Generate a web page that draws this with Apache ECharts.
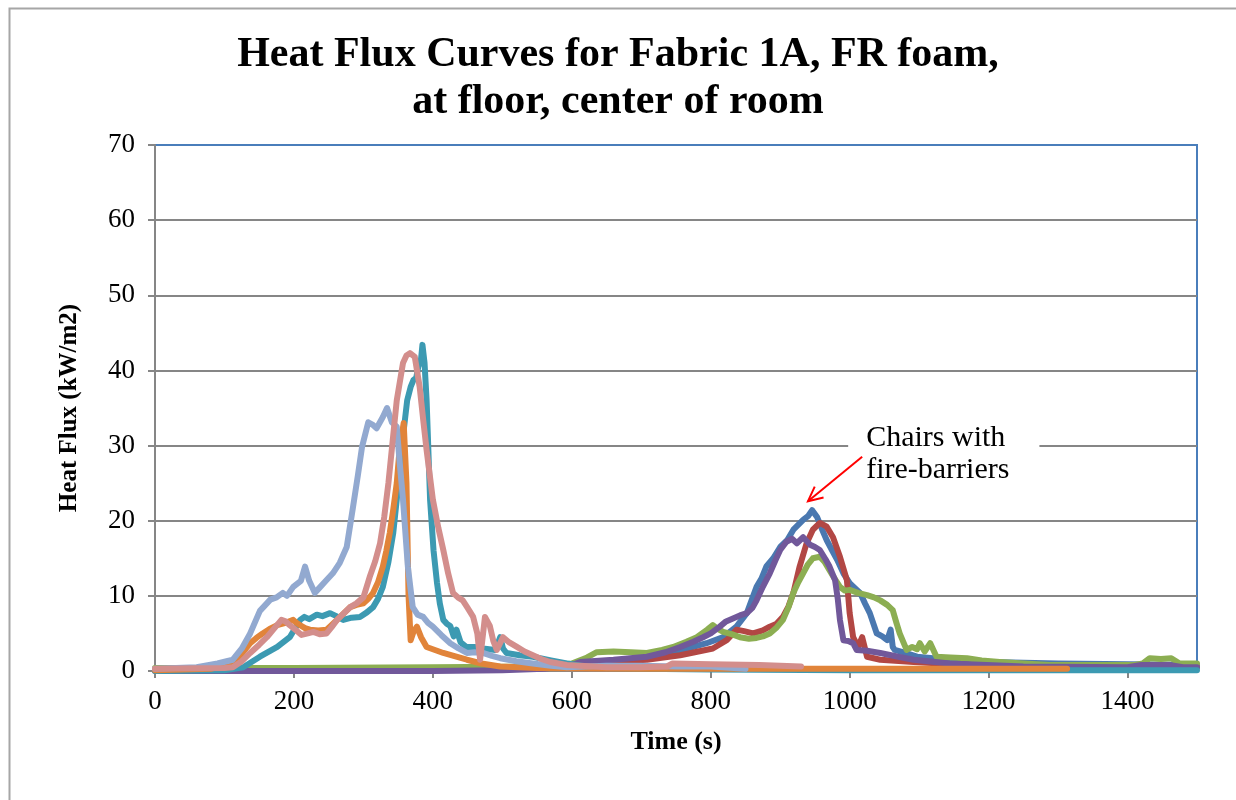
<!DOCTYPE html>
<html><head><meta charset="utf-8">
<script src="https://cdn.jsdelivr.net/npm/echarts@6/dist/echarts.min.js"></script>
<style>html,body{margin:0;padding:0;background:#fff}#c{width:1236px;height:800px}</style>
</head><body><div id="c"></div>
<script>
// ---- data (time s, heat flux kW/m2) ----
const seriesNames = ['Chair 1','Chair 2','Chair 3','Chair 4','Chair 5','Chair 6','Chair 7','Chair 8'];
const chairBlue = [[0,0.2],[100,0.2],[200,0.2],[300,0.3],[400,0.3],[500,0.3],[560,0.4],[600,0.6],[650,1.0],[700,1.5],[740,2.3],[760,2.8],[794,3.7],[818,4.5],[837,5.9],[852,7.7],[866,11.2],[873,12.3],[880,13.9],[890,15.0],[900,16.5],[910,17.4],[919,18.8],[933,20.1],[940,20.6],[946,21.4],[953,20.5],[960,18.9],[967,17.4],[975,16.0],[982,14.8],[991,13.0],[1000,11.7],[1008,11.0],[1015,10.4],[1022,9.0],[1029,7.7],[1039,5.0],[1047,4.6],[1054,4.1],[1059,5.5],[1062,3.2],[1065,2.8],[1080,2.4],[1097,1.9],[1120,1.7],[1144,1.5],[1200,1.2],[1300,1.0],[1400,0.9],[1500,0.8]];
const chairRed = [[0,0.1],[200,0.1],[400,0.2],[550,0.3],[600,0.8],[650,1.2],[708,1.5],[756,2.1],[803,3.0],[823,4.1],[837,5.5],[848,5.3],[861,5.0],[875,5.4],[885,5.9],[895,6.3],[904,7.2],[912,8.6],[919,10.4],[928,13.9],[938,17.0],[947,18.8],[957,19.7],[967,19.2],[976,17.8],[986,15.2],[996,12.1],[1000,7.7],[1005,4.5],[1012,3.2],[1018,4.5],[1025,1.9],[1044,1.5],[1092,1.2],[1150,0.9],[1250,0.7],[1350,0.6],[1450,0.5],[1500,0.5]];
const chairGreen = [[0,0.4],[200,0.4],[400,0.5],[550,0.6],[600,1.0],[622,1.8],[636,2.5],[660,2.6],[685,2.5],[708,2.4],[730,2.8],[746,3.2],[765,3.9],[780,4.5],[795,5.5],[803,6.1],[810,5.6],[818,5.2],[830,4.9],[842,4.5],[855,4.3],[866,4.4],[875,4.6],[885,5.0],[895,5.8],[904,6.8],[912,8.5],[919,10.4],[926,11.8],[933,13.0],[940,14.2],[947,15.0],[957,15.2],[964,14.5],[971,13.4],[979,12.2],[986,11.2],[993,10.7],[1000,10.8],[1012,10.4],[1025,10.1],[1035,9.8],[1044,9.4],[1054,8.8],[1062,8.1],[1067,6.5],[1072,5.0],[1082,2.8],[1090,3.2],[1097,2.9],[1101,3.7],[1108,2.6],[1116,3.7],[1125,1.9],[1145,1.8],[1169,1.7],[1190,1.4],[1216,1.2],[1250,1.0],[1288,0.8],[1350,0.8],[1410,0.8],[1422,1.0],[1432,1.7],[1448,1.6],[1463,1.7],[1475,1.0],[1500,1.0]];
const chairPurple = [[0,0],[200,0],[400,0],[500,0.1],[560,0.3],[600,0.8],[612,1.2],[660,1.5],[708,1.9],[735,2.5],[756,3.2],[775,3.9],[789,4.5],[800,5.0],[813,5.9],[822,6.6],[832,7.0],[842,7.4],[852,7.7],[860,8.4],[866,9.4],[875,11.2],[885,13.0],[893,14.7],[900,16.1],[909,17.2],[917,17.6],[924,17.0],[933,17.8],[943,16.8],[950,16.5],[957,16.1],[965,14.9],[971,13.9],[979,12.1],[983,9.5],[986,6.8],[991,4.1],[998,4.0],[1005,3.7],[1010,2.8],[1025,2.7],[1044,2.4],[1070,1.9],[1092,1.5],[1144,1.0],[1250,0.6],[1400,0.5],[1420,0.8],[1460,0.8],[1480,0.5],[1500,0.5]];
const chairTeal = [[0,0],[100,0.1],[127,0.5],[151,1.9],[176,3.2],[194,4.5],[209,6.8],[215,7.2],[222,6.9],[233,7.5],[241,7.3],[252,7.7],[261,7.3],[271,6.8],[283,7.1],[295,7.2],[305,7.8],[314,8.5],[321,9.6],[328,11.2],[336,14.5],[343,18.4],[353,27.2],[358,32.0],[363,36.0],[368,37.8],[372,38.7],[376,39.0],[379,40.5],[383,41.5],[385,43.4],[388,41.0],[391,36.0],[396,22.8],[401,16.0],[406,11.7],[410,9.0],[415,6.8],[420,6.3],[425,6.0],[430,4.6],[434,5.5],[440,3.8],[448,3.2],[460,3.2],[472,3.0],[490,2.8],[497,4.5],[501,3.0],[506,2.4],[525,2.1],[544,1.9],[570,1.4],[593,1.0],[620,0.6],[650,0.4],[700,0.3],[800,0.2],[1000,0.1],[1500,0.1]];
const chairOrange = [[0,0.1],[80,0.3],[112,1.0],[125,2.3],[137,3.7],[146,4.4],[155,5.0],[165,5.6],[176,6.1],[188,6.4],[199,6.8],[204,6.4],[209,6.1],[216,5.7],[223,5.5],[235,5.4],[247,5.5],[254,6.1],[262,6.8],[271,7.6],[281,8.5],[290,8.8],[300,9.0],[307,9.6],[314,10.4],[321,11.8],[328,13.9],[333,16.0],[338,18.4],[343,21.5],[348,25.0],[352,29.4],[358,33.0],[362,25.0],[365,10.0],[368,4.1],[372,5.2],[377,5.9],[383,4.5],[391,3.2],[403,2.8],[415,2.4],[430,2.0],[449,1.5],[470,1.0],[497,0.6],[550,0.4],[700,0.3],[1000,0.3],[1313,0.3]];
const chairLightBlue = [[0,0.3],[60,0.5],[90,1.0],[112,1.5],[125,3.0],[137,5.0],[151,8.0],[166,9.5],[175,9.8],[184,10.4],[190,10.0],[199,11.2],[210,12.0],[216,13.9],[222,12.0],[230,10.4],[238,11.2],[247,12.1],[256,13.0],[266,14.4],[276,16.5],[285,21.8],[292,26.0],[298,29.8],[307,33.1],[313,32.8],[319,32.3],[328,33.8],[334,35.0],[341,33.1],[348,32.5],[352,28.0],[357,22.8],[364,13.9],[371,8.5],[378,7.5],[386,7.2],[393,6.4],[400,5.9],[412,4.8],[425,3.7],[437,3.0],[449,2.4],[460,2.5],[472,2.4],[485,2.0],[497,1.7],[520,1.3],[544,1.0],[570,0.7],[593,0.5],[620,0.6],[650,0.7],[700,0.7],[750,0.6],[800,0.6],[850,0.3]];
const chairPink = [[0,0.3],[100,0.4],[112,0.5],[125,1.3],[137,2.4],[150,3.5],[161,4.5],[172,5.7],[182,6.8],[188,6.6],[194,6.1],[202,5.5],[211,4.8],[220,5.0],[228,5.2],[237,4.9],[247,5.0],[254,5.8],[262,6.8],[271,7.6],[281,8.5],[290,9.0],[300,9.8],[309,12.5],[317,14.6],[324,17.0],[330,20.5],[336,25.0],[342,30.5],[348,36.0],[357,41.0],[362,42.0],[367,42.3],[374,41.8],[381,37.8],[386,33.5],[391,29.4],[400,22.8],[408,19.0],[415,16.1],[422,13.0],[429,10.4],[436,9.8],[443,9.4],[450,8.4],[458,7.2],[464,5.0],[468,1.5],[475,7.2],[482,6.0],[487,4.0],[492,2.8],[501,4.5],[510,3.8],[521,3.2],[532,2.6],[544,2.1],[556,1.6],[569,1.2],[593,0.8],[650,0.5],[700,0.5],[737,0.6],[745,1.0],[800,0.9],[870,0.8],[900,0.7],[930,0.6]];
const xTicks = [0,200,400,600,800,1000,1200,1400];
const annotationText = 'Chairs with\nfire-barriers';
const arrowFrom = [1018, 28.5];
const arrowTo = [940, 22.6];

const allData = [chairBlue, chairRed, chairGreen, chairPurple, chairTeal, chairOrange, chairLightBlue, chairPink];
const colors = ['#4A78B0','#B24744','#8CAE52','#71589A','#3C9AB2','#E1843A','#92A9D0','#D38E8C'];

const serif = 'Liberation Serif, Times New Roman, serif';
const chart = echarts.init(document.getElementById('c'), null, {renderer:'canvas'});
chart.setOption({
  animation:false,
  backgroundColor:'#fff',
  title:{text:'Heat Flux Curves for Fabric 1A, FR foam,\nat floor, center of room', left:'center', top:27,
    textStyle:{fontFamily:serif, fontWeight:'bold', fontSize:42, lineHeight:47, color:'#000'}},
  grid:{left:155, right:39, top:145, bottom:129, show:true, borderColor:'#4A7EBB', borderWidth:2, backgroundColor:'transparent'},
  xAxis:{type:'value', min:0, max:1500, interval:200,
    name:'Time (s)', nameLocation:'middle', nameGap:58,
    nameTextStyle:{fontFamily:serif, fontWeight:'bold', fontSize:26, color:'#000'},
    axisLine:{lineStyle:{color:'#868686', width:2}},
    axisTick:{show:true, inside:false, length:7, lineStyle:{color:'#868686', width:2}, customValues:xTicks},
    axisLabel:{fontFamily:serif, fontSize:27, color:'#000', margin:17, customValues:xTicks, formatter:v=>String(v)},
    splitLine:{show:false}},
  yAxis:{type:'value', min:0, max:70, interval:10,
    name:'Heat Flux (kW/m2)', nameLocation:'middle', nameGap:73, nameRotate:90,
    nameTextStyle:{fontFamily:serif, fontWeight:'bold', fontSize:25, color:'#000'},
    axisLine:{show:true, lineStyle:{color:'#868686', width:2}},
    axisTick:{show:true, inside:false, length:7, lineStyle:{color:'#868686', width:2}},
    axisLabel:{fontFamily:serif, fontSize:27, color:'#000', margin:20, formatter:v=>String(v)},
    splitLine:{show:true, showMaxLine:false, lineStyle:{color:'#868686', width:2}}},
  series: allData.map((d,i)=>({name:seriesNames[i], type:'line', data:d, showSymbol:false, symbol:'none',
    lineStyle:{color:colors[i], width:6, join:'round', cap:'round'}, itemStyle:{color:colors[i]}, z:2+i}))
});

// annotation placed via data coordinates
const p0 = chart.convertToPixel({gridIndex:0}, arrowFrom);
const p1 = chart.convertToPixel({gridIndex:0}, arrowTo);
const ang = Math.atan2(p1[1]-p0[1], p1[0]-p0[0]);
const hl = 16, ha = 0.45;
const h1 = [p1[0]-hl*Math.cos(ang-ha), p1[1]-hl*Math.sin(ang-ha)];
const h2 = [p1[0]-hl*Math.cos(ang+ha), p1[1]-hl*Math.sin(ang+ha)];
chart.setOption({graphic:[
  {type:'rect', left:7, top:6, shape:{x:0,y:0,width:1300,height:900}, style:{fill:'none', stroke:'#A6A6A6', lineWidth:2}, silent:true, z:0},
  {type:'text', x:p0[0]-14, y:p0[1]-3, z:50,
    style:{text:annotationText, fontFamily:serif, fontSize:30, lineHeight:32, fill:'#000', backgroundColor:'#fff', padding:[0,30,0,18], textVerticalAlign:'middle'}},
  {type:'line', shape:{x1:p0[0], y1:p0[1], x2:p1[0], y2:p1[1]}, style:{stroke:'#FF0000', lineWidth:2}, z:51},
  {type:'polyline', shape:{points:[h1,p1,h2]}, style:{stroke:'#FF0000', lineWidth:2, fill:'none'}, z:51}
]});
</script></body></html>
